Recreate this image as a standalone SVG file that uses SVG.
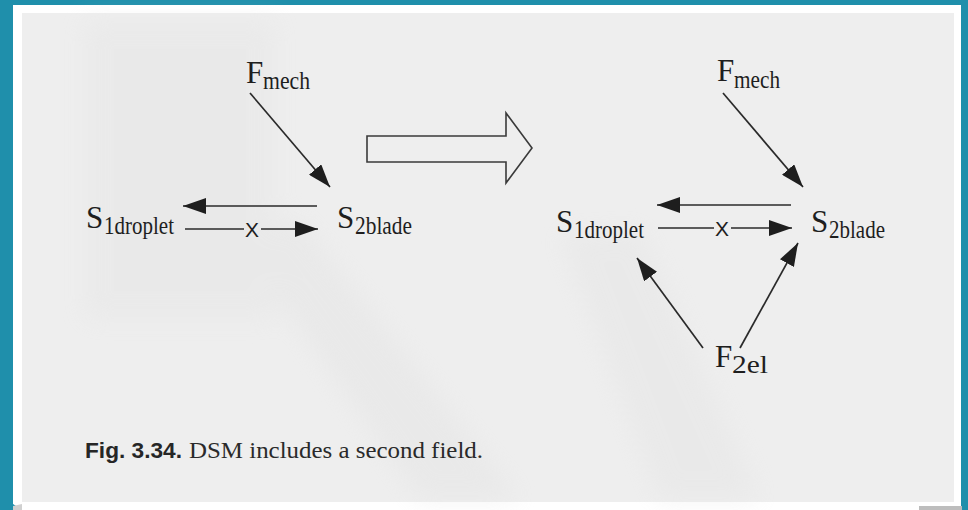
<svg xmlns="http://www.w3.org/2000/svg" width="968" height="510" viewBox="0 0 968 510">
  <style>
    .lbl { font-family: "Liberation Serif", "Times New Roman", serif; font-size: 31px; fill: #1e1e1e; }
    .sub { font-family: "Liberation Serif", "Times New Roman", serif; font-size: 25px; fill: #1e1e1e; }
    .x { font-family: "Liberation Sans", Arial, sans-serif; font-size: 21px; fill: #1e1e1e; }
    .link { stroke: #2a2a2a; stroke-width: 1.7; fill: none; marker-end: url(#head); }
    .plain { stroke: #2a2a2a; stroke-width: 1.7; fill: none; }
    .cap-b { font-family: "Liberation Sans Narrow", "Liberation Sans", Arial, sans-serif; font-weight: bold; font-size: 22px; fill: #262626; }
    .cap { font-family: "Liberation Serif", "Times New Roman", serif; font-size: 23px; fill: #2a2a2a; }
  </style>
  <defs>
    <marker id="head" markerUnits="userSpaceOnUse" markerWidth="24" markerHeight="16" refX="23" refY="8" orient="auto">
      <path d="M0,0 L23,8 L0,16 Z" fill="#1e1e1e"/>
    </marker>
    <filter id="soft" x="-20%" y="-20%" width="140%" height="140%">
      <feGaussianBlur stdDeviation="12"/>
    </filter>
  </defs>

  <!-- frame -->
  <rect x="0" y="0" width="968" height="510" fill="#1f8fab"/>
  <polygon points="13,5 961,5 961,510 22,510 13,504" fill="#ffffff"/>
  <rect x="22" y="13" width="932" height="489" fill="#eeeeee"/>
  <polygon points="919,506 962,506 962,510 919,510" fill="#bdbdbd"/>
  <polygon points="13,506 22,504 22,510 13,510" fill="#d0d0d0"/>

  <!-- faint shading on the page -->
  <g filter="url(#soft)" opacity="0.4">
    <rect x="85" y="20" width="190" height="300" fill="#e4e4e4"/>
    <polygon points="230,230 300,220 520,500 420,500" fill="#e2e2e2"/>
    <polygon points="560,235 640,230 760,500 660,500" fill="#e3e3e3"/>
  </g>

  <!-- connectors -->
  <g id="connectors">
    <!-- left arrangement -->
    <line class="link" x1="250" y1="93" x2="330" y2="187"/>
    <line class="link" x1="317" y1="206" x2="183" y2="206"/>
    <line class="plain" x1="185" y1="229" x2="244" y2="229"/>
    <line class="link" x1="261" y1="229" x2="318" y2="229"/>
    <text class="x" x="252" y="236.5" text-anchor="middle" textLength="14" lengthAdjust="spacingAndGlyphs">X</text>

    <!-- transition arrow -->
    <path d="M367,136 L506,136 L506,113 L532,148 L506,183 L506,162 L367,162 Z" fill="none" stroke="#3a3a3a" stroke-width="1.6"/>

    <!-- right arrangement -->
    <line class="link" x1="723" y1="93" x2="803" y2="187"/>
    <line class="link" x1="791" y1="205" x2="657" y2="205"/>
    <line class="plain" x1="658" y1="228" x2="714" y2="228"/>
    <line class="link" x1="731" y1="228" x2="792" y2="228"/>
    <text class="x" x="722" y="235.5" text-anchor="middle" textLength="14" lengthAdjust="spacingAndGlyphs">X</text>
    <line class="link" x1="703" y1="348" x2="637" y2="258"/>
    <line class="link" x1="740" y1="348" x2="798" y2="243"/>
  </g>

  <!-- left nodes -->
  <g id="fmech-left">
    <text class="lbl" x="246" y="83">F</text>
    <text class="sub" x="263" y="89" textLength="47" lengthAdjust="spacingAndGlyphs">mech</text>
  </g>
  <g id="s1droplet-left">
    <text class="lbl" x="86" y="228">S</text>
    <text class="sub" x="104" y="234" textLength="70" lengthAdjust="spacingAndGlyphs">1droplet</text>
  </g>
  <g id="s2blade-left">
    <text class="lbl" x="337" y="228">S</text>
    <text class="sub" x="355" y="234" textLength="57" lengthAdjust="spacingAndGlyphs">2blade</text>
  </g>

  <!-- right nodes -->
  <g id="fmech-right">
    <text class="lbl" x="717" y="81">F</text>
    <text class="sub" x="734" y="88" textLength="46" lengthAdjust="spacingAndGlyphs">mech</text>
  </g>
  <g id="s1droplet-right">
    <text class="lbl" x="556" y="232">S</text>
    <text class="sub" x="574" y="238" textLength="70" lengthAdjust="spacingAndGlyphs">1droplet</text>
  </g>
  <g id="s2blade-right">
    <text class="lbl" x="811" y="232">S</text>
    <text class="sub" x="829" y="238" textLength="56" lengthAdjust="spacingAndGlyphs">2blade</text>
  </g>
  <g id="f2el">
    <text class="lbl" x="715" y="367">F</text>
    <text class="sub" x="732" y="373" textLength="36" lengthAdjust="spacingAndGlyphs">2el</text>
  </g>

  <!-- caption -->
  <g id="caption">
    <text class="cap-b" x="85" y="458" textLength="97" lengthAdjust="spacingAndGlyphs">Fig. 3.34.</text>
    <text class="cap" x="189" y="458" textLength="294" lengthAdjust="spacingAndGlyphs">DSM includes a second field.</text>
  </g>
</svg>
